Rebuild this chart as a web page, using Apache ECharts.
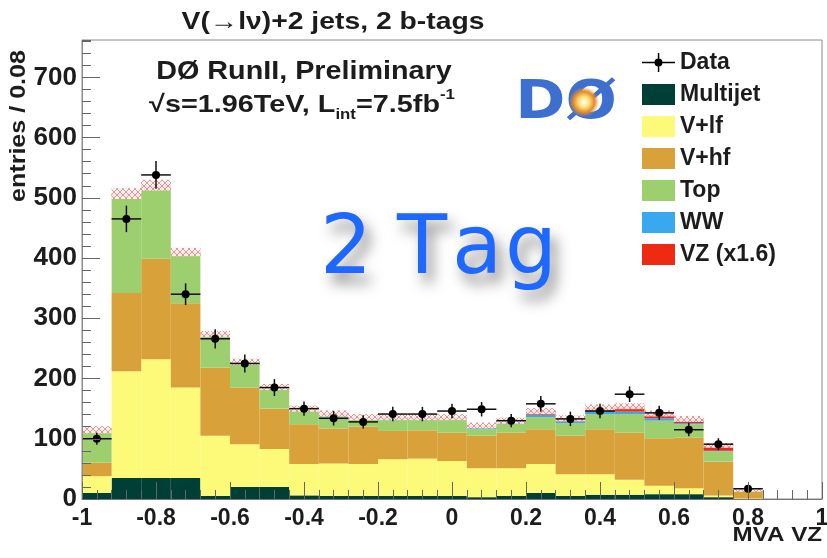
<!DOCTYPE html>
<html>
<head>
<meta charset="utf-8">
<title>MVA VZ, 2 b-tags</title>
<script src="https://cdn.jsdelivr.net/npm/echarts/dist/echarts.min.js"></script>
<style>
  html, body { margin: 0; padding: 0; background: #fff; }
  #chart { width: 827px; height: 558px; }
</style>
</head>
<body>
<div id="chart"></div>
<script>
// MVA VZ output, 25 bins of width 0.08 from -1 to 1 (bin centres)
const binCenters = ['-0.96', '-0.88', '-0.80', '-0.72', '-0.64', '-0.56', '-0.48', '-0.40', '-0.32',
  '-0.24', '-0.16', '-0.08', '0.00', '0.08', '0.16', '0.24', '0.32', '0.40', '0.48', '0.56',
  '0.64', '0.72', '0.80', '0.88', '0.96'];

// Expected events per bin for each background / signal process
const multijet = [10, 35, 35, 35, 5, 20, 20, 6, 5, 5, 5, 5, 5, 3, 5, 10, 5, 7, 7, 8, 8, 3, 0, 0, 0];
const vPlusLf  = [28, 177, 197, 150, 100, 71, 63, 52, 54, 53, 61, 62, 58, 48, 46, 48, 36, 34, 25, 14, 10, 3, 1, 0, 0];
const vPlusHf  = [22, 130, 167, 140, 113, 94, 67, 66, 58, 62, 47, 47, 47, 54, 59, 58, 64, 75, 78, 79, 84, 56, 13, 0, 0];
const topQuark = [53, 161, 117, 80, 51, 39, 32, 22, 20, 12, 18, 17, 21, 11, 15, 20, 21, 25, 31, 29, 22, 17, 1, 0, 0];
const dibosonWW = [1, 2, 2, 2, 2, 2, 2, 2, 2, 2, 2, 2, 2, 3, 2, 4, 3, 4, 4, 4, 2, 1, 0, 0, 0];
const dibosonVZ = [1, 2, 3, 3, 3, 2, 2, 2, 3, 2, 3, 3, 3, 3, 3, 6, 5, 7, 9, 8, 7, 9, 0, 0, 0];

// Half-width of the systematic band on the total prediction
const mcUncertainty = [6, 9, 9, 7, 5, 5, 5, 5, 5, 5, 5, 5, 5, 5, 5, 5, 5, 5, 5, 5, 5, 4, 3, 0, 0];

// Observed events and their statistical errors
const dataCounts = [100, 465, 538, 340, 266, 225, 185, 150, 134, 128, 141, 141, 146, 149, 130, 158, 133, 146, 174, 143, 115, 91, 17, 0, 0];
const dataErrors = [10, 22, 23, 18, 16, 15, 14, 12, 12, 11, 12, 12, 12, 12, 11, 13, 12, 12, 13, 12, 11, 10, 4, 0, 0];

// Axis tick labels
const xTickLabels = ['-1', '-0.8', '-0.6', '-0.4', '-0.2', '0', '0.2', '0.4', '0.6', '0.8', '1'];
const yTickLabels = ['0', '100', '200', '300', '400', '500', '600', '700'];

const FONT = "'Liberation Sans', Arial, Helvetica, sans-serif";
const INK = '#1c1c1c';

const processes = [
  { name: 'Multijet',  values: multijet,  color: '#003f35' },
  { name: 'V+lf',      values: vPlusLf,   color: '#fcfa78' },
  { name: 'V+hf',      values: vPlusHf,   color: '#d8a13a' },
  { name: 'Top',       values: topQuark,  color: '#9ecf6f' },
  { name: 'WW',        values: dibosonWW, color: '#38a8ef' },
  { name: 'VZ (x1.6)', values: dibosonVZ, color: '#ee2a12' }
];

// Cross-hatch fill used for the uncertainty band
function makeHatch() {
  const c = document.createElement('canvas');
  c.width = 6; c.height = 6;
  const g = c.getContext('2d');
  g.fillStyle = 'rgba(255,244,244,0.9)';
  g.fillRect(0, 0, 6, 6);
  g.strokeStyle = '#e99494';
  g.lineWidth = 1;
  g.beginPath();
  g.moveTo(0, 0); g.lineTo(6, 6);
  g.moveTo(6, 0); g.lineTo(0, 6);
  g.stroke();
  return c;
}
const hatchFill = { image: makeHatch(), repeat: 'repeat' };

const totals = binCenters.map((_, i) => processes.reduce((s, p) => s + p.values[i], 0));
const bandData = totals.map((t, i) => [i, t - mcUncertainty[i], t + mcUncertainty[i]]);
const pointData = dataCounts.map((v, i) => [i, v, dataErrors[i]]);

const chart = echarts.init(document.getElementById('chart'), null, { renderer: 'canvas' });

const stackSeries = processes.map(p => ({
  name: p.name,
  type: 'bar',
  stack: 'mc',
  xAxisIndex: 0,
  yAxisIndex: 0,
  data: p.values,
  barWidth: '100%',
  barGap: '-100%',
  barCategoryGap: '0%',
  itemStyle: { color: p.color },
  emphasis: { disabled: true },
  z: 2
}));

// Legend marker for the data: horizontal bar, vertical error bar and a filled dot
const dataIcon = 'path://M0,9.8h33v1.5H0z M15.8,1h1.5v19h-1.5z M12.5,10.5a4,4 0 1,1 8,0a4,4 0 1,1 -8,0z M0,0h0.01v0.01H0z M0,21h0.01v-0.01H0z';

const option = {
  backgroundColor: '#ffffff',
  animation: false,
  grid: {
    left: 82, right: 5, top: 40, bottom: 59,
    show: true, borderColor: '#8a8a8a', borderWidth: 1,
    backgroundColor: 'transparent',
    containLabel: false,
    outerBoundsMode: 'none'
  },
  legend: {
    orient: 'vertical',
    left: 637, top: 46, padding: 5,
    itemWidth: 33, itemHeight: 21, itemGap: 9,
    selectedMode: false,
    textStyle: { fontFamily: FONT, fontSize: 23, fontWeight: 'bold', color: INK, lineHeight: 21 },
    data: [{ name: 'Data', icon: dataIcon }].concat(processes.map(p => ({ name: p.name, icon: 'rect' })))
  },
  xAxis: [
    { type: 'category', data: binCenters, show: false, boundaryGap: true, gridIndex: 0 },
    {
      type: 'value', min: -1, max: 1, interval: 0.2, position: 'bottom', gridIndex: 0, z: 6,
      axisLine: { show: true, onZero: false, lineStyle: { color: '#777', width: 1 } },
      axisTick: { show: true, inside: true, length: 17, lineStyle: { color: '#666', width: 1 } },
      axisLabel: {
        margin: 8, fontFamily: FONT, fontSize: 23, fontWeight: 'bold', color: INK,
        formatter: v => xTickLabels[Math.round((v + 1) / 0.2)]
      },
      splitLine: { show: false }
    },
    {
      type: 'value', min: -1, max: 1, interval: 0.04, position: 'bottom', gridIndex: 0, z: 6,
      axisLine: { show: false, onZero: false },
      axisTick: { show: true, inside: true, length: 9, lineStyle: { color: '#666', width: 1 } },
      axisLabel: { show: false },
      splitLine: { show: false }
    }
  ],
  yAxis: [
    {
      type: 'value', min: 0, max: 762, interval: 100, position: 'left', gridIndex: 0, z: 6,
      axisLine: { show: true, onZero: false, lineStyle: { color: '#8a8a8a', width: 1 } },
      axisTick: { show: true, inside: true, length: 18, lineStyle: { color: '#666', width: 1 } },
      axisLabel: {
        margin: 5, fontFamily: FONT, fontSize: 26, fontWeight: 'bold', color: INK,
        showMaxLabel: false,
        formatter: v => yTickLabels[Math.round(v / 100)] || ''
      },
      splitLine: { show: false }
    },
    {
      type: 'value', min: 0, max: 762, interval: 20, position: 'left', gridIndex: 0, z: 6,
      axisLine: { show: false, onZero: false },
      axisTick: { show: true, inside: true, length: 9, lineStyle: { color: '#666', width: 1 } },
      axisLabel: { show: false },
      splitLine: { show: false }
    }
  ],
  series: stackSeries.concat([
    {
      name: 'MC uncertainty',
      type: 'custom',
      xAxisIndex: 0, yAxisIndex: 0,
      data: bandData,
      encode: { x: 0, y: [1, 2] },
      z: 3,
      renderItem(params, api) {
        const i = api.value(0), lo = api.value(1), hi = api.value(2);
        if (!(hi > lo)) return null;
        const pHi = api.coord([i, hi]);
        const pLo = api.coord([i, lo]);
        const w = api.size([1, 0])[0];
        return {
          type: 'rect',
          shape: { x: pHi[0] - w / 2, y: pHi[1], width: w, height: pLo[1] - pHi[1] },
          style: { fill: hatchFill }
        };
      }
    },
    {
      name: 'Data',
      type: 'custom',
      xAxisIndex: 0, yAxisIndex: 0,
      data: pointData,
      encode: { x: 0, y: 1 },
      itemStyle: { color: '#000' },
      z: 4,
      renderItem(params, api) {
        const i = api.value(0), v = api.value(1), e = api.value(2);
        if (!(v > 0)) return null;
        const c = api.coord([i, v]);
        const up = api.coord([i, v + e]);
        const dn = api.coord([i, v - e]);
        const hw = api.size([1, 0])[0] / 2;
        const st = { stroke: '#111', lineWidth: 1.5 };
        return {
          type: 'group',
          children: [
            { type: 'line', shape: { x1: c[0] - hw, y1: c[1], x2: c[0] + hw, y2: c[1] }, style: st },
            { type: 'line', shape: { x1: c[0], y1: up[1], x2: c[0], y2: dn[1] }, style: st },
            { type: 'circle', shape: { cx: c[0], cy: c[1], r: 4 }, style: { fill: '#000' } }
          ]
        };
      }
    }
  ]),
  graphic: [
    // Title
    {
      type: 'text', x: 333, y: 22, scaleX: 1.18, z: 20,
      style: { text: 'V(\u2192l\u03bd)+2 jets, 2 b-tags', font: 'bold 24px ' + FONT, fill: INK, align: 'center', verticalAlign: 'middle' }
    },
    // y-axis title (reads bottom to top)
    {
      type: 'text', x: 19, y: 126, rotation: Math.PI / 2, scaleX: 1.14, z: 20,
      style: { text: 'entries / 0.08', font: 'bold 22px ' + FONT, fill: INK, align: 'center', verticalAlign: 'middle' }
    },
    // x-axis title
    {
      type: 'text', x: 822, y: 535, scaleX: 1.15, z: 20,
      style: { text: 'MVA VZ', font: 'bold 21px ' + FONT, fill: INK, align: 'right', verticalAlign: 'middle' }
    },
    // Experiment / luminosity labels
    {
      type: 'text', x: 304, y: 72, scaleX: 1.15, z: 20,
      style: { text: 'D\u00d8 RunII, Preliminary', font: 'bold 25px ' + FONT, fill: INK, align: 'center', verticalAlign: 'middle' }
    },
    {
      type: 'text', x: 302, y: 105, scaleX: 1.2, z: 20,
      style: {
        text: '{m|\u221as=1.96TeV, L}{sub|int}{m|=7.5fb}{sup|-1}',
        align: 'center', verticalAlign: 'middle',
        rich: {
          m:   { font: 'bold 24px ' + FONT, fill: INK, lineHeight: 34, verticalAlign: 'middle' },
          sub: { font: 'bold 14px ' + FONT, fill: INK, lineHeight: 34, verticalAlign: 'bottom' },
          sup: { font: 'bold 14px ' + FONT, fill: INK, lineHeight: 34, verticalAlign: 'top' }
        }
      }
    },
    // Experiment logo
    {
      type: 'group', z: 20,
      children: [
        {
          type: 'text', x: 566, y: 104, scaleX: 1.12,
          style: { text: 'D\u00d8', font: 'bold 54px "DejaVu Sans", sans-serif', fill: '#3d6fcf', align: 'center', verticalAlign: 'middle' }
        },
        {
          type: 'circle', shape: { cx: 584, cy: 102, r: 15 },
          style: {
            fill: {
              type: 'radial', x: 0.5, y: 0.5, r: 0.5,
              colorStops: [
                { offset: 0, color: '#ffffff' },
                { offset: 0.35, color: '#ffe27a' },
                { offset: 0.7, color: '#e58a2a' },
                { offset: 1, color: 'rgba(229,138,42,0)' }
              ]
            }
          }
        }
      ]
    },
    // Hand-written annotation
    {
      type: 'group', z: 30,
      children: ['2', 'T', 'a', 'g'].map((ch, k) => ({
        type: 'text',
        x: [320, 397, 452, 505][k], y: 252,
        style: {
          text: ch, font: '82px "DejaVu Sans", sans-serif', fill: '#1f68ff',
          align: 'left', verticalAlign: 'middle',
          textShadowColor: 'rgba(0,0,0,0.45)', textShadowBlur: 14,
          textShadowOffsetX: 6, textShadowOffsetY: 10
        }
      }))
    }
  ]
};

chart.setOption(option);
</script>
</body>
</html>
